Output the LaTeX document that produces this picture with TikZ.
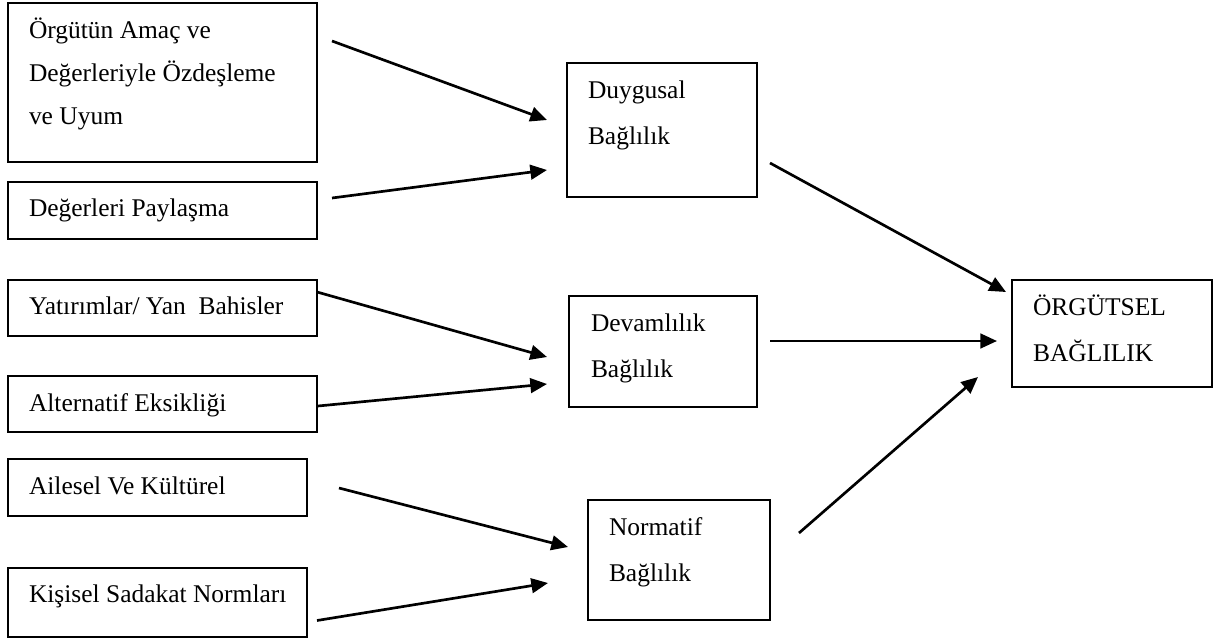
\documentclass[tikz,border=0pt]{standalone}
\usepackage{fontspec}
\setmainfont{Liberation Serif}
\usetikzlibrary{arrows.meta,calc,fit}
\tikzset{
  box/.style={draw, line width=1.2pt, inner sep=0pt, outer sep=0pt},
  txt/.style={anchor=base west, inner sep=0pt, outer sep=0pt, font=\fontsize{19.1pt}{22pt}\selectfont},
  arr/.style={line width=2pt, -{Triangle[length=12.5pt, width=11pt]}}
}
\begin{document}
\begin{tikzpicture}[x=0.75pt, y=-0.75pt]
\useasboundingbox[fill=white] (0,0) rectangle (1213,639);
% left boxes
\node[box, fit={(8,3) (317,162)}] (b1) {};
\node[box, fit={(8,182) (317,239)}] (b2) {};
\node[box, fit={(8,280) (317,336)}] (b3) {};
\node[box, fit={(8,376) (317,432)}] (b4) {};
\node[box, fit={(8,459) (307,516)}] (b5) {};
\node[box, fit={(8,568) (307,637)}] (b6) {};
% middle boxes
\node[box, fit={(567,63) (757,197)}] (duy) {};
\node[box, fit={(569,296) (757,407)}] (dev) {};
\node[box, fit={(588,500) (770,620)}] (nor) {};
% right box
\node[box, fit={(1012,280) (1212,387)}] (org) {};
% texts
\node[txt] (t1a) at (29,38) {Örgütün Amaç ve};
\node[txt] (t1b) at (29,81) {Değerleriyle Özdeşleme};
\node[txt] (t1c) at (29,124) {ve Uyum};
\node[txt] (t2) at (29,216) {Değerleri Paylaşma};
\node[txt] (t3) at (29,314) {Yatırımlar/ Yan \ Bahisler};
\node[txt] (t4) at (29,411) {Alternatif Eksikliği};
\node[txt] (t5) at (29,494) {Ailesel Ve Kültürel};
\node[txt] (t6) at (29,602) {Kişisel Sadakat Normları};
\node[txt] (d1) at (588,98) {Duygusal};
\node[txt] (d2) at (588,144) {Bağlılık};
\node[txt] (v1) at (591,331) {Devamlılık};
\node[txt] (v2) at (591,377) {Bağlılık};
\node[txt] (n1) at (609,535) {Normatif};
\node[txt] (n2) at (609,581) {Bağlılık};
\node[txt] (o1) at (1033,315) {ÖRGÜTSEL};
\node[txt] (o2) at (1033,361) {BAĞLILIK};
% connectors
\draw[arr] ($(b1.east)+(15,-41.5)$) -- ($(duy.west)+(-20,-10)$);
\draw[arr] ($(b2.east)+(15,-12.5)$) -- ($(duy.west)+(-20,40)$);
\draw[arr] ($(b3.east)+(0,-16)$) -- ($(dev.west)+(-22,5.5)$);
\draw[arr] ($(b4.east)+(1,2)$) -- ($(dev.west)+(-22,32.5)$);
\draw[arr] ($(b5.east)+(32,0.5)$) -- ($(nor.west)+(-20,-13)$);
\draw[arr] ($(b6.east)+(10,18)$) -- ($(nor.west)+(-40,23)$);
\draw[arr] ($(duy.east)+(13,33)$) -- ($(org.west)+(-6,-41.5)$);
\draw[arr] ($(dev.east)+(13,-10.5)$) -- ($(org.west)+(-15,7.5)$);
\draw[arr] ($(nor.east)+(29,-27)$) -- ($(org.west)+(-34,43.5)$);
\end{tikzpicture}
\end{document}
